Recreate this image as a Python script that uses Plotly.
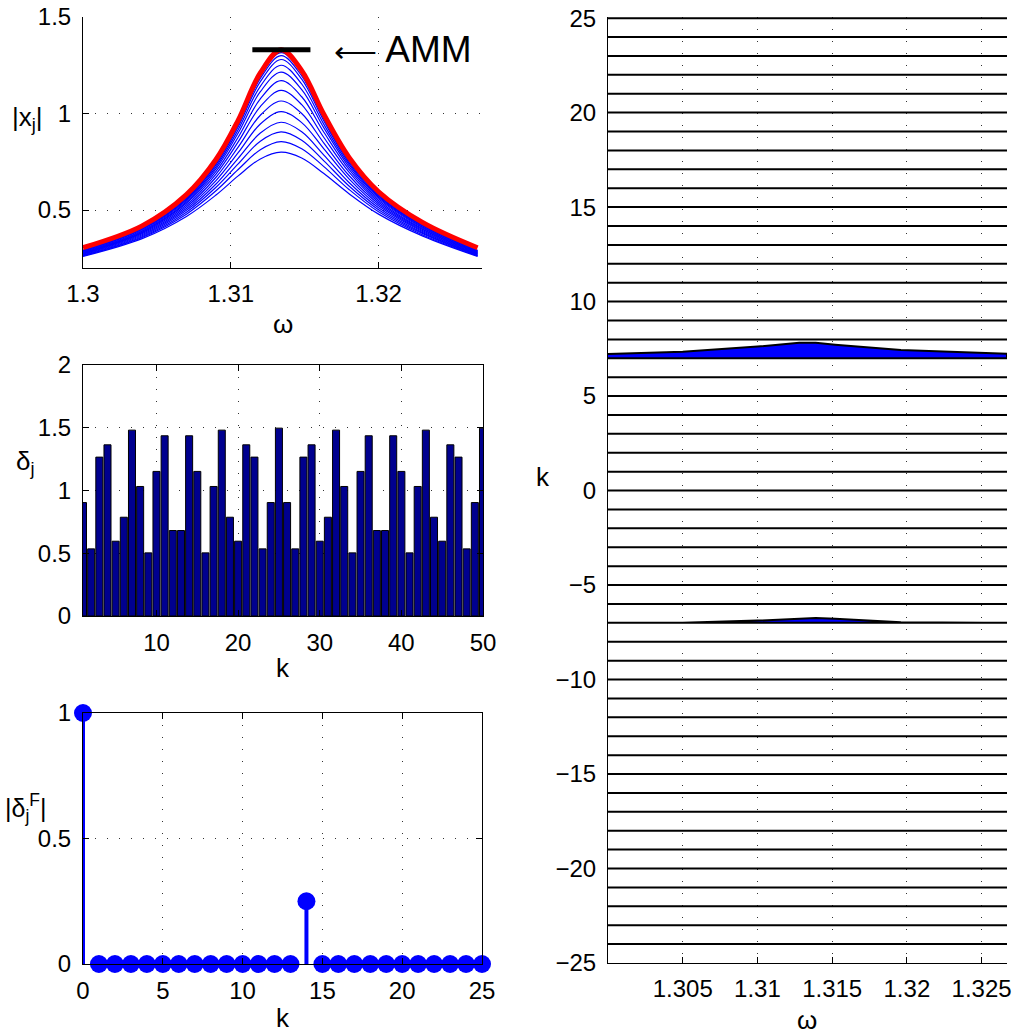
import plotly.graph_objects as go

# ---------------- data ----------------
# top-left: |x_j| response curves versus omega
omega_grid = [1.3000, 1.3040, 1.3070, 1.3090, 1.3105, 1.3120, 1.3134,
              1.3148, 1.3163, 1.3180, 1.3200, 1.3230, 1.3267]
amm_curve = [0.305, 0.418, 0.580, 0.762, 0.965, 1.210, 1.330,
             1.222, 0.995, 0.773, 0.595, 0.435, 0.305]
xj_c0 = [0.292, 0.406, 0.566, 0.749, 0.953, 1.195, 1.315, 1.209, 0.983, 0.761, 0.583, 0.423, 0.292]
xj_c1 = [0.289, 0.402, 0.560, 0.741, 0.943, 1.182, 1.300, 1.195, 0.972, 0.753, 0.577, 0.419, 0.289]
xj_c2 = [0.287, 0.399, 0.555, 0.734, 0.932, 1.165, 1.280, 1.178, 0.961, 0.745, 0.572, 0.416, 0.287]
xj_c3 = [0.284, 0.394, 0.549, 0.724, 0.916, 1.141, 1.250, 1.153, 0.944, 0.735, 0.565, 0.411, 0.284]
xj_c4 = [0.281, 0.390, 0.542, 0.713, 0.899, 1.113, 1.215, 1.124, 0.926, 0.724, 0.558, 0.407, 0.281]
xj_c5 = [0.279, 0.386, 0.535, 0.700, 0.877, 1.076, 1.170, 1.087, 0.903, 0.711, 0.550, 0.402, 0.279]
xj_c6 = [0.276, 0.382, 0.526, 0.686, 0.853, 1.036, 1.120, 1.046, 0.876, 0.696, 0.541, 0.398, 0.276]
xj_c7 = [0.273, 0.377, 0.517, 0.670, 0.826, 0.991, 1.065, 1.000, 0.847, 0.679, 0.532, 0.393, 0.273]
xj_c8 = [0.271, 0.372, 0.508, 0.653, 0.797, 0.946, 1.010, 0.953, 0.817, 0.662, 0.522, 0.388, 0.271]
xj_c9 = [0.268, 0.367, 0.499, 0.635, 0.768, 0.899, 0.955, 0.906, 0.785, 0.643, 0.512, 0.382, 0.268]
xj_c10 = [0.265, 0.362, 0.489, 0.618, 0.739, 0.857, 0.905, 0.862, 0.755, 0.625, 0.502, 0.377, 0.265]
xj_c11 = [0.263, 0.358, 0.479, 0.600, 0.710, 0.813, 0.855, 0.818, 0.725, 0.607, 0.491, 0.371, 0.263]
xj_c12 = [0.260, 0.352, 0.467, 0.578, 0.677, 0.765, 0.800, 0.770, 0.689, 0.585, 0.479, 0.365, 0.260]
xj_curves = [xj_c0, xj_c1, xj_c2, xj_c3, xj_c4, xj_c5, xj_c6,
             xj_c7, xj_c8, xj_c9, xj_c10, xj_c11, xj_c12]
amm_bar_x = [1.31146, 1.31539]
amm_bar_y = [1.33, 1.33]

# middle-left: delta_j bars
k_bar = list(range(1, 51))
delta_j = [0.904, 0.535, 1.266, 1.364, 0.596, 0.787, 1.481, 1.032, 0.503, 1.152,
           1.436, 0.681, 0.681, 1.436, 1.152, 0.503, 1.032, 1.481, 0.787, 0.596,
           1.364, 1.266, 0.535, 0.904, 1.497, 0.904, 0.535, 1.266, 1.364, 0.596,
           0.787, 1.481, 1.032, 0.503, 1.152, 1.436, 0.681, 0.681, 1.436, 1.152,
           0.503, 1.032, 1.481, 0.787, 0.596, 1.364, 1.266, 0.535, 0.904, 1.497]

# bottom-left: |delta_j^F| stems
k_stem = list(range(0, 26))
delta_F = [1.0, 0, 0, 0, 0, 0, 0, 0, 0, 0, 0, 0, 0, 0, 0.25,
           0, 0, 0, 0, 0, 0, 0, 0, 0, 0, 0]

# right: rows k with profile versus omega
k_rows = list(range(-24, 26))
omega_fill = [1.3000, 1.3050, 1.3100, 1.3128, 1.3139, 1.3152, 1.3196, 1.3251, 1.3267]
profile_k7 = [0.23, 0.35, 0.62, 0.82, 0.82, 0.72, 0.44, 0.29, 0.24]
profile_km7 = [0.0, 0.0, 0.12, 0.24, 0.25, 0.22, 0.03, 0.0, 0.0]
row_profiles = {7: profile_k7, -7: profile_km7}

# ---------------- layout helpers ----------------
W, H = 1021, 1034
FONT = "Liberation Sans, Arial, Helvetica, sans-serif"
TICKF = dict(family=FONT, size=24, color="black")
GRID = dict(showgrid=True, gridcolor="rgba(0,0,0,0.8)", gridwidth=1, griddash="1px,11px")


def dx(a, b):
    return [a / W, b / W]


def dy(top, bottom):
    return [1 - bottom / H, 1 - top / H]


def axis(**kw):
    base = dict(showline=True, linecolor="black", linewidth=1, ticks="inside",
                ticklen=6, tickcolor="black", tickfont=TICKF, zeroline=False,
                automargin=False, **GRID)
    base.update(kw)
    return base


fig = go.Figure()

# top-left curves
for c in xj_curves:
    fig.add_trace(go.Scatter(x=omega_grid, y=c, mode="lines", xaxis="x", yaxis="y",
                             line=dict(color="blue", width=1.2, shape="spline")))
fig.add_trace(go.Scatter(x=omega_grid, y=amm_curve, mode="lines", xaxis="x", yaxis="y",
                         line=dict(color="red", width=5, shape="spline")))
fig.add_trace(go.Scatter(x=amm_bar_x, y=amm_bar_y, mode="lines", xaxis="x", yaxis="y",
                         line=dict(color="black", width=5)))

# middle-left bars
fig.add_trace(go.Bar(x=k_bar, y=delta_j, xaxis="x2", yaxis="y2", width=0.86,
                     marker=dict(color="rgb(0,0,143)", line=dict(color="black", width=1))))

# bottom-left stems
sx, sy = [], []
for k, v in zip(k_stem, delta_F):
    sx += [k, k, None]
    sy += [0, v, None]
fig.add_trace(go.Scatter(x=sx, y=sy, mode="lines", xaxis="x3", yaxis="y3",
                         line=dict(color="blue", width=4)))
fig.add_trace(go.Scatter(x=k_stem, y=delta_F, mode="markers", xaxis="x3", yaxis="y3",
                         cliponaxis=False,
                         marker=dict(color="blue", size=18, line=dict(width=0))))

# right rows
for k in k_rows:
    prof = row_profiles.get(k, [0.0] * len(omega_fill))
    xs = omega_fill + omega_fill[::-1]
    ys = [k + v for v in prof] + [k] * len(omega_fill)
    fig.add_trace(go.Scatter(x=xs, y=ys, mode="lines", xaxis="x4", yaxis="y4",
                             fill="toself", fillcolor="blue",
                             line=dict(color="black", width=2)))

fig.update_layout(
    width=W, height=H, margin=dict(l=0, r=0, t=0, b=0, autoexpand=False),
    paper_bgcolor="white", plot_bgcolor="white", showlegend=False,
    font=dict(family=FONT, color="black"),
    xaxis=axis(domain=dx(83, 482), anchor="y", range=[1.3, 1.327],
               tickvals=[1.3, 1.31, 1.32], ticktext=["1.3", "1.31", "1.32"],
               ticklabelstandoff=4),
    yaxis=axis(domain=dy(17, 268), anchor="x", range=[0.2, 1.5],
               tickvals=[0.5, 1, 1.5], ticktext=["0.5", "1", "1.5"],
               ticklabelstandoff=6),
    xaxis2=axis(domain=dx(83, 483), anchor="y2", range=[1, 50], mirror="ticks",
                tickvals=[10, 20, 30, 40, 50], ticklabelstandoff=5),
    yaxis2=axis(domain=dy(365, 616), anchor="x2", range=[0, 2], mirror="ticks",
                tickvals=[0, 0.5, 1, 1.5, 2], ticktext=["0", "0.5", "1", "1.5", "2"],
                ticklabelstandoff=6),
    xaxis3=axis(domain=dx(83, 482), anchor="y3", range=[0, 25], mirror="ticks",
                tickvals=[0, 5, 10, 15, 20, 25], ticklabelstandoff=5),
    yaxis3=axis(domain=dy(713, 964), anchor="x3", range=[0, 1], mirror="ticks",
                tickvals=[0, 0.5, 1], ticktext=["0", "0.5", "1"], ticklabelstandoff=6),
    xaxis4=axis(domain=dx(608, 1007), anchor="y4", range=[1.3, 1.3267],
                tickvals=[1.305, 1.31, 1.315, 1.32, 1.325],
                ticktext=["1.305", "1.31", "1.315", "1.32", "1.325"], ticklabelstandoff=4),
    yaxis4=axis(domain=dy(17, 963), anchor="x4", range=[-25, 25.06],
                tickvals=list(range(-25, 26, 5)), ticklabelstandoff=6),
)


def lab(text, x, y, size=26):
    fig.add_annotation(text=text, x=x / W, y=1 - y / H, xref="paper", yref="paper",
                       showarrow=False, xanchor="center", yanchor="middle",
                       font=dict(family=FONT, size=size, color="black"))


lab("|x<sub>j</sub>|", 27, 118)
lab("ω", 283, 324)
lab("δ<sub>j</sub>", 25, 462)
lab("k", 283, 668)
lab("|δ<sub>j</sub><sup>F</sup>|", 26, 808, size=25)
lab("k", 283, 1018)
lab("k", 543, 477)
lab("ω", 807, 1020)

fig.add_annotation(text="<span style=\"font-size:30px\">⟵</span> AMM", x=1.31685, y=1.33,
                   xref="x", yref="y",
                   showarrow=False, xanchor="left", yanchor="middle",
                   font=dict(family=FONT, size=37, color="black"))

fig.write_html("out.html")
